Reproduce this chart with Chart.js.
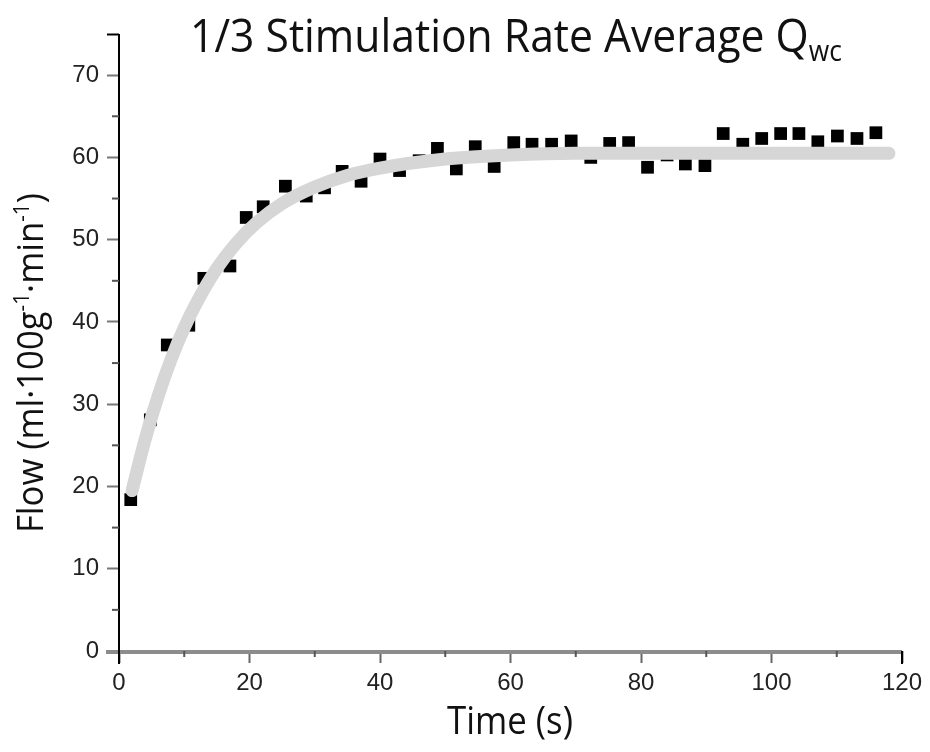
<!DOCTYPE html>
<html>
<head>
<meta charset="utf-8">
<script src="https://cdn.jsdelivr.net/npm/chart.js@4.4.1/dist/chart.umd.min.js"></script>
<style>
  html, body { margin: 0; padding: 0; background: #fff; }
</style>
</head>
<body>
<canvas id="flowChart" width="930" height="752"></canvas>
<script>
// measured points (time in s, flow in ml/100g/min)
const timeS = [1.8, 4.8, 7.4, 10.7, 13.0, 17.0, 19.5, 22.1, 25.5, 28.7, 31.5, 34.2, 37.1, 40.0, 43.0, 46.0, 48.8, 51.7, 54.6, 57.5,
  60.5, 63.3, 66.3, 69.3, 72.3, 75.2, 78.1, 81.0, 84.0, 86.8, 89.8, 92.6, 95.6, 98.5, 101.4, 104.2, 107.1, 110.1, 113.1, 116.0];
const flow = [18.4, 28.1, 37.2, 39.6, 45.3, 46.8, 52.7, 54.0, 56.5, 55.3, 56.3, 58.3, 57.1, 59.8, 58.4, 59.6, 61.1, 58.6, 61.3, 58.9,
  61.8, 61.6, 61.6, 62.0, 60.0, 61.7, 61.8, 58.8, 60.3, 59.2, 59.0, 62.9, 61.6, 62.3, 62.9, 62.9, 61.9, 62.6, 62.3, 63.0];

// fitted curve
const fitTime = [2, 4, 6, 8, 10, 12, 15, 18, 21, 25, 30, 35, 40, 50, 60, 70, 80, 100, 118];
const fitFlow = [19.5, 25.7, 31.0, 35.5, 39.3, 42.5, 46.5, 49.6, 52.0, 54.4, 56.4, 57.8, 58.7, 59.8, 60.3, 60.5, 60.5, 60.5, 60.5];

const xMinorTicks = [10, 30, 50, 70, 90, 110];
const yMinorTicks = [5, 15, 25, 35, 45, 55, 65];

const textFont = "'Open Sans'";
const tickFont = "Liberation Sans";
const squeeze = 0.93; // narrow the text a bit, the original is set in a condensed face

// draw text pieces (with sub/superscripts), scaled to fill a given width
function drawRich(ctx, parts, x, y, width, align) {
  let total = 0;
  parts.forEach(p => {
    ctx.font = `${100 * (p.scale || 1)}px ${textFont}`;
    total += ctx.measureText(p.text).width;
  });
  const size = 100 * width / (total * squeeze);
  const left = align === 'center' ? x - width / 2 : x;
  ctx.save();
  ctx.translate(left, y);
  ctx.scale(squeeze, 1);
  ctx.textBaseline = 'alphabetic';
  ctx.textAlign = 'left';
  let cx = 0;
  parts.forEach(p => {
    ctx.font = `${size * (p.scale || 1)}px ${textFont}`;
    ctx.fillText(p.text, cx, (p.dy || 0) * size);
    cx += ctx.measureText(p.text).width;
  });
  ctx.restore();
}

const decorations = {
  id: 'decorations',
  afterDraw(chart) {
    const { ctx, chartArea, scales } = chart;
    const xs = scales.x, ys = scales.y;
    ctx.save();

    // x axis band
    ctx.strokeStyle = '#8c8c8c';
    ctx.lineWidth = 4;
    ctx.beginPath();
    ctx.moveTo(106, chartArea.bottom + 1);
    ctx.lineTo(chartArea.right, chartArea.bottom + 1);
    ctx.stroke();

    // y axis line
    ctx.strokeStyle = '#000';
    ctx.lineWidth = 2;
    ctx.beginPath();
    ctx.moveTo(chartArea.left, chartArea.top);
    ctx.lineTo(chartArea.left, chartArea.bottom + 13);
    ctx.stroke();
    // right end tick of x axis
    ctx.beginPath();
    ctx.moveTo(chartArea.right, chartArea.bottom);
    ctx.lineTo(chartArea.right, chartArea.bottom + 13);
    ctx.stroke();

    // minor ticks
    ctx.strokeStyle = '#555';
    ctx.lineWidth = 2;
    xMinorTicks.forEach(v => {
      const px = xs.getPixelForValue(v);
      ctx.beginPath();
      ctx.moveTo(px, chartArea.bottom);
      ctx.lineTo(px, chartArea.bottom + 6);
      ctx.stroke();
    });
    yMinorTicks.forEach(v => {
      const py = ys.getPixelForValue(v);
      ctx.beginPath();
      ctx.moveTo(chartArea.left, py);
      ctx.lineTo(chartArea.left - 7, py);
      ctx.stroke();
    });

    ctx.fillStyle = '#111';
    // title
    drawRich(ctx, [
      { text: '1/3 Stimulation Rate Average Q' },
      { text: 'wc', scale: 0.62, dy: 0.2 }
    ], 190, 52, 652, 'left');

    // x title
    drawRich(ctx, [{ text: 'Time (s)' }], 510, 734, 126, 'center');

    // y title
    ctx.translate(43, 363);
    ctx.rotate(-Math.PI / 2);
    drawRich(ctx, [
      { text: 'Flow (ml·100g' },
      { text: '-1', scale: 0.6, dy: -0.38 },
      { text: '·min' },
      { text: '-1', scale: 0.6, dy: -0.38 },
      { text: ')' }
    ], 0, 0, 340, 'center');
    ctx.restore();
  }
};

const ctx = document.getElementById('flowChart').getContext('2d');
new Chart(ctx, {
  type: 'scatter',
  data: {
    datasets: [
      {
        label: 'Fit',
        data: fitTime.map((t, i) => ({ x: t, y: fitFlow[i] })),
        showLine: true,
        borderColor: '#d6d6d6',
        borderWidth: 13,
        borderCapStyle: 'round',
        pointRadius: 0,
        cubicInterpolationMode: 'monotone',
        order: 0
      },
      {
        label: 'Qwc',
        data: timeS.map((t, i) => ({ x: t, y: flow[i] })),
        pointStyle: 'rect',
        pointRadius: 9,
        backgroundColor: '#000',
        borderColor: '#000',
        borderWidth: 0,
        order: 1
      }
    ]
  },
  options: {
    responsive: false,
    animation: false,
    layout: { padding: { top: 34, right: 28, left: 0, bottom: 0 } },
    plugins: { legend: { display: false }, tooltip: { enabled: false } },
    scales: {
      x: {
        type: 'linear',
        min: 0,
        max: 120,
        ticks: { stepSize: 20, padding: 6, color: '#222', font: { family: tickFont, size: 24 } },
        grid: { drawOnChartArea: false, tickLength: 12, tickWidth: 2, color: '#666' },
        border: { display: false },
        afterFit(scale) { scale.height = 101; }
      },
      y: {
        min: 0,
        max: 75,
        ticks: {
          stepSize: 10,
          padding: 8,
          color: '#222',
          font: { family: tickFont, size: 24 },
          callback: (v) => (v % 10 === 0 ? v : '')
        },
        grid: {
          drawOnChartArea: false,
          tickLength: 12,
          tickWidth: 2,
          color: (c) => (c.tick && c.tick.value === 75 ? '#000' : '#777')
        },
        border: { display: false },
        afterFit(scale) { scale.width = 119; }
      }
    }
  },
  plugins: [decorations]
});
</script>
</body>
</html>
